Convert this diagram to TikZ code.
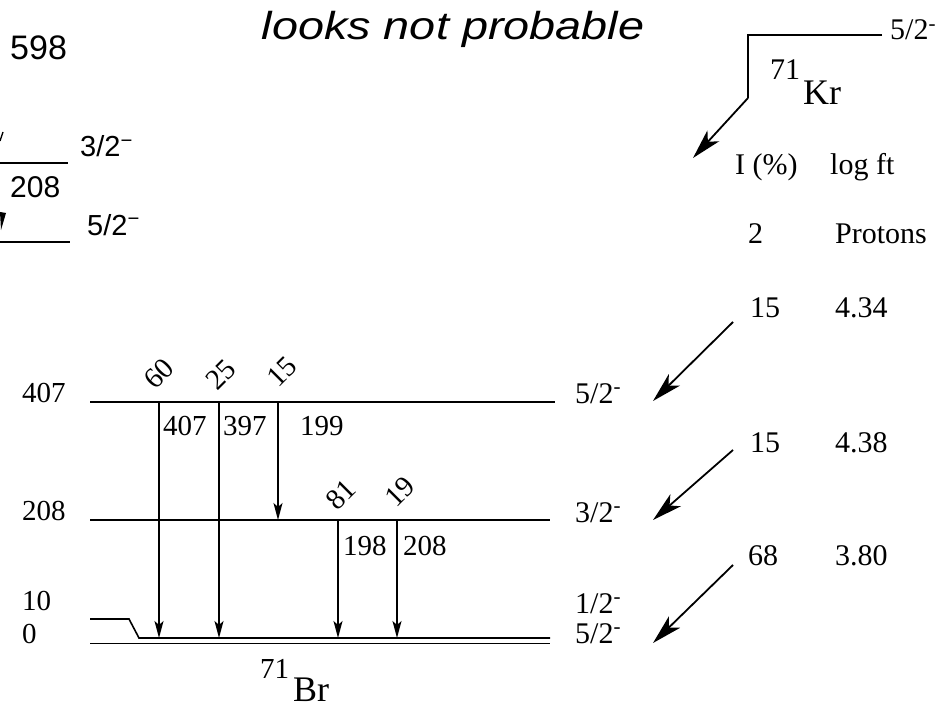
\documentclass[tikz,border=0pt]{standalone}
\usepackage{fontspec}
\usepackage{graphicx}
\setmainfont{Liberation Serif}
\newfontfamily\sansf{Liberation Sans}
\usetikzlibrary{arrows.meta}
\tikzset{
  lvl/.style={line width=1.6pt},
  gam/.style={line width=1.4pt,-{Stealth[length=17pt,width=9pt,inset=4pt]}},
  feed/.style={line width=1.8pt,-{Stealth[length=30pt,width=16pt,inset=8pt]}},
  lab/.style={inner sep=0pt,anchor=base west,font=\fontsize{29pt}{29pt}\selectfont},
  rot/.style={inner sep=0pt,rotate=45,font=\fontsize{29pt}{29pt}\selectfont},
  tab/.style={inner sep=0pt,anchor=base west,font=\fontsize{30pt}{30pt}\selectfont},
  big/.style={inner sep=0pt,anchor=base west,font=\fontsize{36pt}{36pt}\selectfont},
  sf/.style={inner sep=0pt,anchor=base west,font=\sansf\fontsize{29pt}{29pt}\selectfont}
}
\begin{document}
\begin{tikzpicture}[x=1pt,y=-1pt]
\useasboundingbox (0,0) rectangle (949,703);

% ---------- left fragment (sans) ----------
\node[sf,font=\sansf\fontsize{34pt}{34pt}\selectfont] (t598) at (10,60) {598};
\node[sf] (s32) at (80,157) {3/2\textsuperscript{−}};
\node[sf,font=\sansf\fontsize{30pt}{30pt}\selectfont] (t208f) at (10,198) {208};
\node[sf] (s52f) at (87,235) {5/2\textsuperscript{−}};
\coordinate (fa1) at (0,163); \coordinate (fa2) at (68,163);
\coordinate (fb1) at (0,242); \coordinate (fb2) at (70,242);
\draw[lvl] (fa1) -- (fa2);
\draw[lvl] (fb1) -- (fb2);
\coordinate (fs1) at (3,132); \coordinate (fs2) at (0,141);
\draw[line width=1.4pt] (fs1) -- (fs2);
\fill (0,212) -- (6,213) -- (1,230) -- cycle;

% ---------- title ----------
\node[inner sep=0pt,anchor=base,font=\sansf\itshape\fontsize{39pt}{39pt}\selectfont] (title) at (453,40) {\scalebox{1.2}[1]{looks not probable}};

% ---------- Kr parent ----------
\coordinate (k1) at (882,35); \coordinate (k2) at (748,35);
\coordinate (k3) at (748,98); \coordinate (k4) at (693,158);
\draw[line width=1.6pt] (k1) -- (k2) -- (k3);
\draw[feed] (k3) -- (k4);
\node[tab] (kspin) at (890,40) {5/2\textsuperscript{-}};
\node[tab] (k71) at (770,80) {71};
\node[big] (kr) at (803,105) {Kr};

% ---------- table ----------
\node[tab] (hI) at (735,175) {I (\%)};
\node[tab] (hlog) at (830,175) {log ft};
\node[tab] (r1a) at (748,243) {2};
\node[tab] (r1b) at (835,243) {Protons};
\node[tab] (r2a) at (750,317) {15};
\node[tab] (r2b) at (835,317) {4.34};
\node[tab] (r3a) at (750,452) {15};
\node[tab] (r3b) at (835,452) {4.38};
\node[tab] (r4a) at (748,565) {68};
\node[tab] (r4b) at (835,565) {3.80};

% ---------- feeding arrows ----------
\coordinate (f1s) at (733,322); \coordinate (f1e) at (653,401);
\coordinate (f2s) at (733,450); \coordinate (f2e) at (653,520);
\coordinate (f3s) at (733,565); \coordinate (f3e) at (653,643);
\draw[feed] (f1s) -- (f1e);
\draw[feed] (f2s) -- (f2e);
\draw[feed] (f3s) -- (f3e);

% ---------- levels ----------
\coordinate (L4a) at (90,402); \coordinate (L4b) at (555,402);
\coordinate (L2a) at (90,520); \coordinate (L2b) at (550,520);
\coordinate (L1a) at (90,619); \coordinate (L1k) at (129,619);
\coordinate (L1m) at (139,638); \coordinate (L1b) at (550,638);
\coordinate (L0a) at (90,643.5); \coordinate (L0b) at (550,643.5);
\draw[lvl] (L4a) -- (L4b);
\draw[lvl] (L2a) -- (L2b);
\draw[lvl] (L1a) -- (L1k) -- (L1m) -- (L1b);
\draw[lvl] (L0a) -- (L0b);

\node[lab] (e407) at (22,402) {407};
\node[lab] (e208) at (22,520) {208};
\node[lab] (e10) at (22,610) {10};
\node[lab] (e0) at (22,643) {0};

\node[tab] (j4) at (575,403) {5/2\textsuperscript{-}};
\node[tab] (j2) at (575,522) {3/2\textsuperscript{-}};
\node[tab] (j1) at (575,613) {1/2\textsuperscript{-}};
\node[tab] (j0) at (575,643) {5/2\textsuperscript{-}};

% ---------- gamma transitions ----------
\coordinate (g1a) at (159,402); \coordinate (g1b) at (159,638);
\coordinate (g2a) at (219,402); \coordinate (g2b) at (219,638);
\coordinate (g3a) at (278,402); \coordinate (g3b) at (278,520);
\coordinate (g4a) at (338,520); \coordinate (g4b) at (338,638);
\coordinate (g5a) at (397,520); \coordinate (g5b) at (397,638);
\draw[gam] (g1a) -- (g1b);
\draw[gam] (g2a) -- (g2b);
\draw[gam] (g3a) -- (g3b);
\draw[gam] (g4a) -- (g4b);
\draw[gam] (g5a) -- (g5b);

\node[lab] (ge1) at (163,435) {407};
\node[lab] (ge2) at (223,435) {397};
\node[lab] (ge3) at (300,435) {199};
\node[lab] (ge4) at (343,555) {198};
\node[lab] (ge5) at (403,555) {208};

\node[rot] (gi1) at (159,374) {60};
\node[rot] (gi2) at (221,375) {25};
\node[rot] (gi3) at (282,372) {15};
\node[rot] (gi4) at (341,495) {81};
\node[rot] (gi5) at (400,492) {19};

% ---------- daughter ----------
\node[lab] (b71) at (260,678) {71};
\node[big] (br) at (293,701) {Br};
\end{tikzpicture}
\end{document}
